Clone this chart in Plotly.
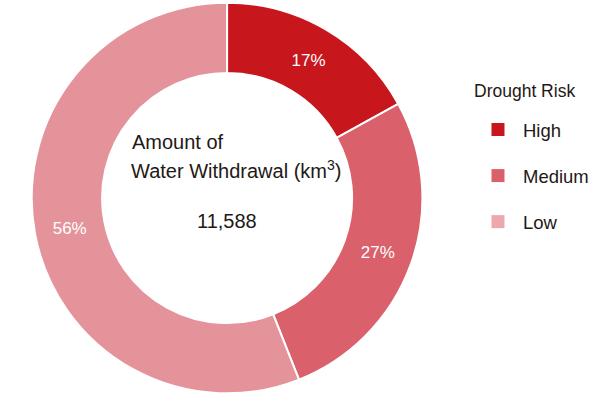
import plotly.graph_objects as go

categories = ["High", "Medium", "Low"]
shares = [17, 27, 56]
colors = ["#C8161D", "#DA606B", "#E5939A"]
legend_colors = ["#C8161D", "#DA606B", "#EDA8AD"]
legend_title = "Drought Risk"
center_lines = ["Amount of", "Water Withdrawal (km<sup>3</sup>)"]
center_value = "11,588"

W, H = 594, 398
txt = "#231815"
font_family = "Liberation Sans, Arial, sans-serif"

fig = go.Figure()
fig.add_trace(go.Pie(
    labels=categories, values=shares, sort=False, direction="clockwise",
    rotation=0, hole=0.64,
    marker=dict(colors=colors, line=dict(color="white", width=2)),
    textinfo="percent", texttemplate="%{percent:.0%}",
    textposition="inside", insidetextorientation="horizontal",
    textfont=dict(color="white", size=17, family=font_family),
    showlegend=False, hoverinfo="label+percent",
    domain=dict(x=[32 / W, 426 / W], y=[1 - 395 / H, 1 - 1 / H]),
))

for c, col in zip(categories, legend_colors):
    fig.add_trace(go.Scatter(
        x=[None], y=[None], mode="markers", name=c,
        marker=dict(symbol="square", size=13, color=col),
        legendgroup=c, showlegend=True,
    ))

fig.add_annotation(x=131 / W, y=1 - 142 / H, xref="paper", yref="paper",
                   text=center_lines[0], showarrow=False, xanchor="left",
                   yanchor="middle", font=dict(size=20, color=txt, family=font_family))
fig.add_annotation(x=130 / W, y=1 - 169 / H, xref="paper", yref="paper",
                   text=center_lines[1], showarrow=False, xanchor="left",
                   yanchor="middle", font=dict(size=20, color=txt, family=font_family))
fig.add_annotation(x=229 / W, y=1 - 221 / H, xref="paper", yref="paper",
                   text=center_value, showarrow=False, xanchor="center",
                   yanchor="middle", font=dict(size=20, color=txt, family=font_family))
fig.add_annotation(x=476 / W, y=1 - 91 / H, xref="paper", yref="paper",
                   text=legend_title, showarrow=False, xanchor="left",
                   yanchor="middle", font=dict(size=17.5, color=txt, family=font_family))

fig.update_layout(
    width=W, height=H, margin=dict(l=0, r=0, t=0, b=0),
    paper_bgcolor="white", plot_bgcolor="white",
    xaxis=dict(visible=False), yaxis=dict(visible=False),
    legend=dict(
        font=dict(size=18.5, color=txt, family=font_family),
        x=477 / W, y=1 - 111 / H, xanchor="left", yanchor="top",
        itemwidth=40, tracegroupgap=19, bgcolor="rgba(0,0,0,0)",
    ),
)

fig.write_html("out.html", config={"displayModeBar": False},
               post_script="document.body.style.margin='0';")
